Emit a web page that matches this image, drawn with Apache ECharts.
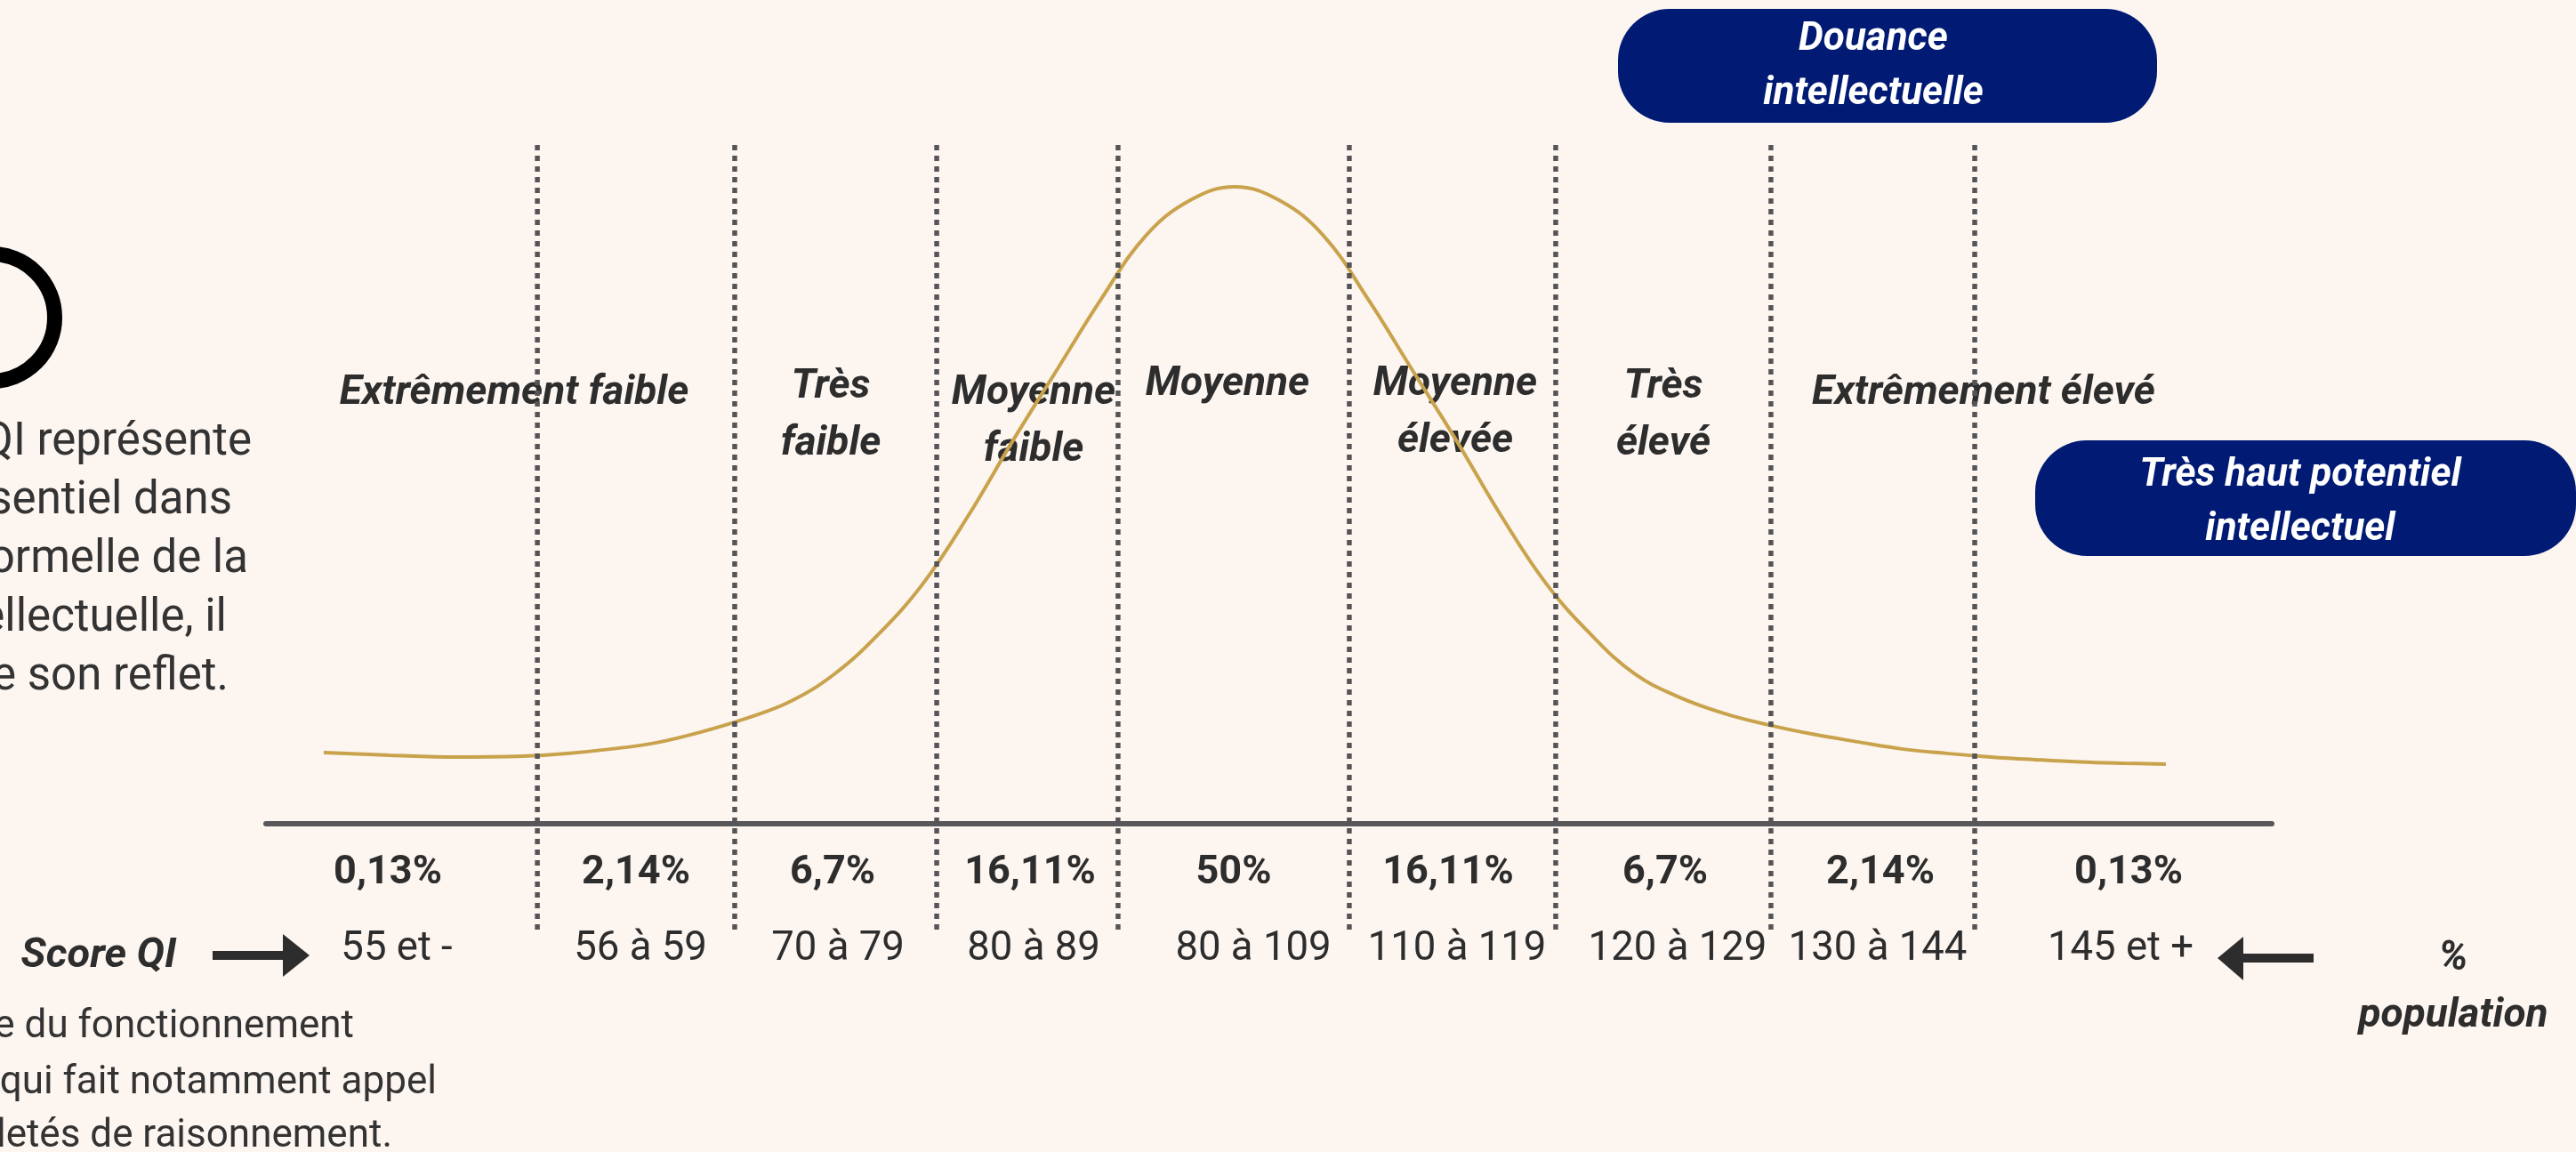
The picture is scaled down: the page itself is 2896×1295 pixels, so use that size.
<!DOCTYPE html>
<html><head><meta charset="utf-8">
<script src="https://cdn.jsdelivr.net/npm/echarts/dist/echarts.min.js"></script>
<style>html,body{margin:0;padding:0;background:#fcf5f0;overflow:hidden}#c{width:2896px;height:1295px}</style>
</head><body><div id="c"></div>
<script>
// ---- DATA ----
const categories = ['Extrêmement faible', 'Très\nfaible', 'Moyenne\nfaible', 'Moyenne', 'Moyenne\nélevée', 'Très\nélevé', 'Extrêmement élevé'];
const populationPercents = ['0,13%', '2,14%', '6,7%', '16,11%', '50%', '16,11%', '6,7%', '2,14%', '0,13%'];
const scoreRanges = ['55 et -', '56 à 59', '70 à 79', '80 à 89', '80 à 109', '110 à 119', '120 à 129', '130 à 144', '145 et +'];
const bandLimits = [13.53, 23.37, 33.44, 42.48, 54.01, 64.30, 75.03, 85.19];
const curveX = [2.88, 6.16, 9.49, 12.82, 15.03, 17.25, 19.47, 21.69, 23.90, 26.12, 28.34, 30.55, 32.77, 34.99, 37.21, 39.42, 41.64, 43.86, 46.08, 48.29,
  50.51, 52.73, 54.94, 57.16, 59.38, 61.60, 63.81, 66.03, 68.25, 70.47, 72.68, 74.90, 77.12, 79.33, 81.55, 83.77, 85.99, 88.20, 90.42, 92.64, 94.72];
const curveY = [11.19, 10.77, 10.49, 10.63, 11.05, 11.75, 12.73, 14.41, 16.50, 19.16, 23.50, 29.79, 37.76, 48.25, 60.00, 71.19, 82.38, 92.31, 97.90, 100,
  97.90, 92.31, 82.38, 71.19, 60.00, 48.25, 37.76, 29.79, 23.50, 19.86, 17.34, 15.52, 14.06, 12.87, 11.75, 11.05, 10.49, 10.07, 9.72, 9.51, 9.37];
const boxTitles = ['Douance\nintellectuelle', 'Très haut potentiel\nintellectuel'];
const sideTitles = ['Score QI', '%\npopulation'];
const introLines = ['Si le QI représente', 'un indicateur essentiel dans', "l'évaluation formelle de la", 'capacité intellectuelle, il', "n'en est que son reflet."];
const footLines = ["C'est une mesure globale du fonctionnement", 'intellectuel qui fait notamment appel', 'aux habiletés de raisonnement.'];

// ---- LAYOUT (pixels) ----
const catPos = [[578, 442], [934, 467], [1162, 474], [1380, 432], [1636, 464], [1870, 467], [2230, 442]];
const pctX = [436, 715, 936, 1158, 1387, 1628, 1872, 2114, 2393];
const scoreX = [446, 720, 942, 1162, 1409, 1638, 1886, 2111, 2384];
const introRight = [283, 261, 279, 255, 257];
const introY = [498, 564, 630, 696, 762];
const footRight = [398, 491, 441];
const footY = [1155, 1218, 1278];

const dark = '#2d2d2d';
const F = 'Roboto, "Noto Sans", sans-serif';
const graphics = [];

// boxes
graphics.push({type: 'rect', z: 1, shape: {x: 1819, y: 10, width: 606, height: 128, r: 58}, style: {fill: '#011b74'}});
graphics.push({type: 'rect', z: 1, shape: {x: 2288, y: 495, width: 608, height: 130, r: 58}, style: {fill: '#011b74'}});
graphics.push({type: 'text', z: 2, x: 2106, y: 75, style: {text: boxTitles[0], font: 'italic bold 44px ' + F, fill: '#fff', align: 'center', verticalAlign: 'middle', lineHeight: 61}});
graphics.push({type: 'text', z: 2, x: 2586, y: 565, style: {text: boxTitles[1], font: 'italic bold 44px ' + F, fill: '#fff', align: 'center', verticalAlign: 'middle', lineHeight: 61}});

// circle
graphics.push({type: 'circle', z: 1, shape: {cx: -10, cy: 357, r: 71.5}, style: {fill: 'none', stroke: '#000', lineWidth: 17}});

// category labels
categories.forEach((c, i) => graphics.push({type: 'text', z: 1, x: catPos[i][0], y: catPos[i][1],
  style: {text: c, font: 'italic bold 46px ' + F, fill: dark, align: 'center', verticalAlign: 'middle', lineHeight: 64}}));
// percents
populationPercents.forEach((p, i) => graphics.push({type: 'text', z: 1, x: pctX[i], y: 982,
  style: {text: p, font: 'bold 45px ' + F, fill: dark, align: 'center', verticalAlign: 'middle'}}));
// scores
scoreRanges.forEach((s, i) => graphics.push({type: 'text', z: 1, x: scoreX[i], y: 1068,
  style: {text: s, font: '45.5px ' + F, fill: dark, align: 'center', verticalAlign: 'middle'}}));
// side titles
graphics.push({type: 'text', z: 1, x: 111, y: 1075, style: {text: sideTitles[0], font: 'italic bold 47px ' + F, fill: dark, align: 'center', verticalAlign: 'middle'}});
graphics.push({type: 'text', z: 1, x: 2758, y: 1110, style: {text: sideTitles[1], font: 'italic bold 46px ' + F, fill: dark, align: 'center', verticalAlign: 'middle', lineHeight: 64}});
// arrows
graphics.push({type: 'rect', z: 1, shape: {x: 239, y: 1069, width: 82, height: 10}, style: {fill: dark}});
graphics.push({type: 'polygon', z: 1, shape: {points: [[318, 1050], [348, 1074], [318, 1098]]}, style: {fill: dark}});
graphics.push({type: 'rect', z: 1, shape: {x: 2519, y: 1072, width: 82, height: 10}, style: {fill: dark}});
graphics.push({type: 'polygon', z: 1, shape: {points: [[2522, 1053], [2493, 1077], [2522, 1102]]}, style: {fill: dark}});
// paragraphs
introLines.forEach((t, i) => graphics.push({type: 'text', z: 1, x: introRight[i], y: introY[i],
  style: {text: t, font: '51px ' + F, fill: '#333', align: 'right', verticalAlign: 'middle'}}));
footLines.forEach((t, i) => graphics.push({type: 'text', z: 1, x: footRight[i], y: footY[i],
  style: {text: t, font: '44px ' + F, fill: '#333', align: 'right', verticalAlign: 'middle'}}));

const series = [{
  type: 'line', xAxisIndex: 0, yAxisIndex: 0, z: 11, silent: true,
  data: curveX.map((x, i) => [x, curveY[i]]),
  smooth: 0.4, symbol: 'none',
  lineStyle: {color: '#c9a24c', width: 4}
}];
bandLimits.forEach(v => series.push({
  type: 'line', xAxisIndex: 1, yAxisIndex: 1, z: 12, silent: true,
  data: [[v, 1], [v, 0]], symbol: 'none',
  lineStyle: {color: '#555557', width: 5.5, type: [6, 6], cap: 'butt'}
}));

const chart = echarts.init(document.getElementById('c'), null, {renderer: 'canvas'});
chart.setOption({
  backgroundColor: '#fcf5f0',
  animation: false,
  grid: [
    {left: 299, right: 342, top: 210, bottom: 369},
    {left: 299, right: 342, top: 163, bottom: 250}
  ],
  xAxis: [
    {type: 'value', gridIndex: 0, min: 0, max: 100, axisLine: {show: true, onZero: false, lineStyle: {color: '#58585a', width: 6}}, axisTick: {show: false}, axisLabel: {show: false}, splitLine: {show: false}},
    {type: 'value', gridIndex: 1, min: 0, max: 100, show: false}
  ],
  yAxis: [
    {type: 'value', gridIndex: 0, min: 0, max: 100, show: false},
    {type: 'value', gridIndex: 1, min: 0, max: 1, show: false}
  ],
  graphic: {elements: graphics},
  series: series
});
</script></body></html>
